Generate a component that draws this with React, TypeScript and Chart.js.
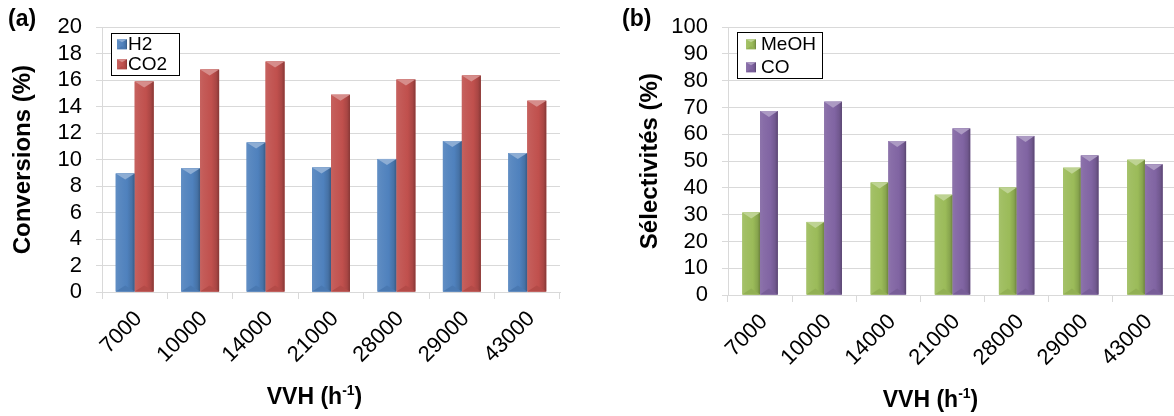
import React, { useEffect, useRef } from 'react';
import { Chart, registerables } from 'chart.js';

Chart.register(...registerables);

// ---------- data ----------
const categories = ['7000', '10000', '14000', '21000', '28000', '29000', '43000'];
const h2Conversion = [8.95, 9.35, 11.3, 9.4, 10.05, 11.4, 10.5];
const co2Conversion = [15.9, 16.8, 17.4, 14.9, 16.05, 16.35, 14.45];
const meohSelectivity = [30.8, 27.3, 42.0, 37.4, 40.1, 47.5, 50.5];
const coSelectivity = [68.7, 72.2, 57.5, 62.2, 59.4, 52.1, 48.8];
const conversionTicks = [0, 2, 4, 6, 8, 10, 12, 14, 16, 18, 20];
const selectivityTicks = [0, 10, 20, 30, 40, 50, 60, 70, 80, 90, 100];

const FONT = "'Liberation Sans', Arial, Helvetica, sans-serif";
const BLUE = '#4F81BD';
const RED = '#C0504D';
const GREEN = '#9BBB59';
const PURPLE = '#8064A2';
const GRID = '#d9d9d9';

function shade(hex: string, amt: number): string {
  const n = parseInt(hex.slice(1), 16);
  let r = (n >> 16) & 255, g = (n >> 8) & 255, b = n & 255;
  const f = (c: number) => {
    const v = amt >= 0 ? c + (255 - c) * amt : c * (1 + amt);
    return Math.max(0, Math.min(255, Math.round(v)));
  };
  return `rgb(${f(r)},${f(g)},${f(b)})`;
}

function drawBevelRect(ctx: CanvasRenderingContext2D, left: number, top: number, w: number, h: number, color: string, cap: number) {
  const right = left + w;
  const bottom = top + h;
  const cx = left + w / 2;
  const g = ctx.createLinearGradient(left, 0, right, 0);
  g.addColorStop(0, shade(color, 0.1));
  g.addColorStop(0.18, shade(color, 0.06));
  g.addColorStop(0.6, color);
  g.addColorStop(0.85, shade(color, -0.12));
  g.addColorStop(1, shade(color, -0.3));
  ctx.fillStyle = g;
  ctx.fillRect(left, top, w, h);
  const c = Math.min(cap, h / 2);
  // top cap (light)
  ctx.beginPath();
  ctx.moveTo(left, top);
  ctx.lineTo(right, top);
  ctx.lineTo(cx, top + c);
  ctx.closePath();
  ctx.fillStyle = shade(color, 0.35);
  ctx.fill();
  // bottom facet (slightly dark)
  ctx.beginPath();
  ctx.moveTo(left, bottom);
  ctx.lineTo(right, bottom);
  ctx.lineTo(cx, bottom - c);
  ctx.closePath();
  ctx.fillStyle = shade(color, -0.06);
  ctx.fill();
}

interface DecorCfg {
  panel: string;
  panelX: number;
  panelY: number;
  yTitle: string;
  yTitleX: number;
  xTitleCx: number;
  xTitleBaseline: number;
  legendBox: { left: number; top: number; w: number; h: number };
  legendRows: number[];
  markerDx: number;
  textDx: number;
}

function makeDecorPlugin(cfg: DecorCfg) {
  return {
    id: 'decor',
    afterDatasetsDraw(chart: any) {
      const ctx: CanvasRenderingContext2D = chart.ctx;
      ctx.save();
      chart.data.datasets.forEach((ds: any, i: number) => {
        const meta = chart.getDatasetMeta(i);
        meta.data.forEach((bar: any) => {
          const p = bar.getProps(['x', 'y', 'base', 'width'], true);
          const left = p.x - p.width / 2;
          drawBevelRect(ctx, left, p.y, p.width, p.base - p.y, ds.backgroundColor, 6);
        });
      });
      ctx.restore();
    },
    afterDraw(chart: any) {
      const ctx: CanvasRenderingContext2D = chart.ctx;
      const area = chart.chartArea;
      ctx.save();
      ctx.fillStyle = '#000';
      // panel label
      ctx.font = `bold 23px ${FONT}`;
      ctx.textAlign = 'left';
      ctx.textBaseline = 'alphabetic';
      ctx.fillText(cfg.panel, cfg.panelX, cfg.panelY);
      // y title
      ctx.save();
      ctx.translate(cfg.yTitleX, (area.top + area.bottom) / 2);
      ctx.rotate(-Math.PI / 2);
      ctx.font = `bold 24px ${FONT}`;
      ctx.textAlign = 'center';
      ctx.fillText(cfg.yTitle, 0, 0);
      ctx.restore();
      // x title with superscript
      const mainTxt = 'VVH (h';
      const supTxt = '-1';
      const tailTxt = ')';
      ctx.font = `bold 23px ${FONT}`;
      const w1 = ctx.measureText(mainTxt).width;
      const w3 = ctx.measureText(tailTxt).width;
      ctx.font = `bold 14px ${FONT}`;
      const w2 = ctx.measureText(supTxt).width;
      let x = cfg.xTitleCx - (w1 + w2 + w3) / 2;
      ctx.textAlign = 'left';
      ctx.font = `bold 23px ${FONT}`;
      ctx.fillText(mainTxt, x, cfg.xTitleBaseline);
      x += w1;
      ctx.font = `bold 14px ${FONT}`;
      ctx.fillText(supTxt, x, cfg.xTitleBaseline - 9);
      x += w2;
      ctx.font = `bold 23px ${FONT}`;
      ctx.fillText(tailTxt, x, cfg.xTitleBaseline);
      // legend
      const lb = cfg.legendBox;
      const bx = area.left + lb.left;
      const by = area.top + lb.top;
      ctx.fillStyle = '#fff';
      ctx.fillRect(bx, by, lb.w, lb.h);
      ctx.strokeStyle = '#000';
      ctx.lineWidth = 1;
      ctx.strokeRect(Math.round(bx) + 0.5, Math.round(by) + 0.5, lb.w, lb.h);
      ctx.font = `19px ${FONT}`;
      ctx.textBaseline = 'middle';
      chart.data.datasets.forEach((ds: any, i: number) => {
        const cy = by + cfg.legendRows[i];
        drawBevelRect(ctx, bx + cfg.markerDx, cy - 5, 10, 10, ds.backgroundColor, 3);
        ctx.fillStyle = '#000';
        ctx.fillText(ds.label, bx + cfg.textDx, cy + 1);
      });
      ctx.restore();
    },
  };
}

interface PanelProps {
  left: number;
  width: number;
  yWidth: number;
  xHeight: number;
  padTop: number;
  padRight: number;
  ticks: number[];
  series: { label: string; data: number[]; color: string }[];
  catPct: number;
  decor: DecorCfg;
}

function BarPanel(props: PanelProps) {
  const ref = useRef<HTMLCanvasElement>(null);
  useEffect(() => {
    const t = props.ticks;
    const chart = new Chart(ref.current as HTMLCanvasElement, {
      type: 'bar',
      data: {
        labels: categories,
        datasets: props.series.map((s) => ({
          label: s.label,
          data: s.data,
          backgroundColor: s.color,
          borderWidth: 0,
          categoryPercentage: props.catPct,
          barPercentage: 1,
        })),
      },
      options: {
        responsive: false,
        animation: false,
        devicePixelRatio: 1,
        layout: { padding: { left: 0, right: props.padRight, top: props.padTop, bottom: 0 } },
        plugins: { legend: { display: false }, tooltip: { enabled: false } },
        scales: {
          x: {
            grid: { display: true, drawOnChartArea: false, drawTicks: true, tickLength: 7, color: GRID, offset: true },
            border: { display: true, color: GRID },
            ticks: {
              minRotation: 45,
              maxRotation: 45,
              autoSkip: false,
              font: { family: FONT, size: 22 },
              color: '#000',
              padding: 7,
              labelOffset: 4,
            },
            afterFit: (s: any) => {
              s.height = props.xHeight;
            },
          },
          y: {
            min: t[0],
            max: t[t.length - 1],
            ticks: {
              stepSize: t[1] - t[0],
              autoSkip: false,
              font: { family: FONT, size: 22 },
              color: '#000',
              padding: 14,
            },
            afterBuildTicks: (s: any) => {
              s.ticks = t.map((v) => ({ value: v }));
            },
            grid: { color: GRID, tickLength: 6, drawTicks: true },
            border: { display: true, color: GRID },
            afterFit: (s: any) => {
              s.width = props.yWidth;
            },
          },
        },
      } as any,
      plugins: [makeDecorPlugin(props.decor)],
    });
    return () => chart.destroy();
  }, []);
  return (
    <canvas
      ref={ref}
      width={props.width}
      height={416}
      style={{ position: 'absolute', left: props.left, top: 0, width: props.width, height: 416 }}
    />
  );
}

export default function App() {
  return (
    <div style={{ position: 'absolute', left: 0, top: 0, width: 1174, height: 416, overflow: 'hidden', background: '#fff' }}>
      <BarPanel
        left={0}
        width={590}
        yWidth={102}
        xHeight={124}
        padTop={14}
        padRight={30}
        ticks={conversionTicks}
        catPct={0.58}
        series={[
          { label: 'H2', data: h2Conversion, color: BLUE },
          { label: 'CO2', data: co2Conversion, color: RED },
        ]}
        decor={{
          panel: '(a)',
          panelX: 8,
          panelY: 26,
          yTitle: 'Conversions (%)',
          yTitleX: 30,
          xTitleCx: 314.5,
          xTitleBaseline: 403.5,
          legendBox: { left: 9, top: 6, w: 68, h: 42 },
          legendRows: [11, 31],
          markerDx: 6,
          textDx: 17,
        }}
      />
      <BarPanel
        left={587}
        width={603}
        yWidth={141}
        xHeight={121}
        padTop={19.5}
        padRight={13}
        ticks={selectivityTicks}
        catPct={0.553}
        series={[
          { label: 'MeOH', data: meohSelectivity, color: GREEN },
          { label: 'CO', data: coSelectivity, color: PURPLE },
        ]}
        decor={{
          panel: '(b)',
          panelX: 35,
          panelY: 26,
          yTitle: 'Sélectivités (%)',
          yTitleX: 70,
          xTitleCx: 343.5,
          xTitleBaseline: 407,
          legendBox: { left: 9, top: 5, w: 85, h: 46 },
          legendRows: [12, 35],
          markerDx: 9,
          textDx: 24,
        }}
      />
    </div>
  );
}
